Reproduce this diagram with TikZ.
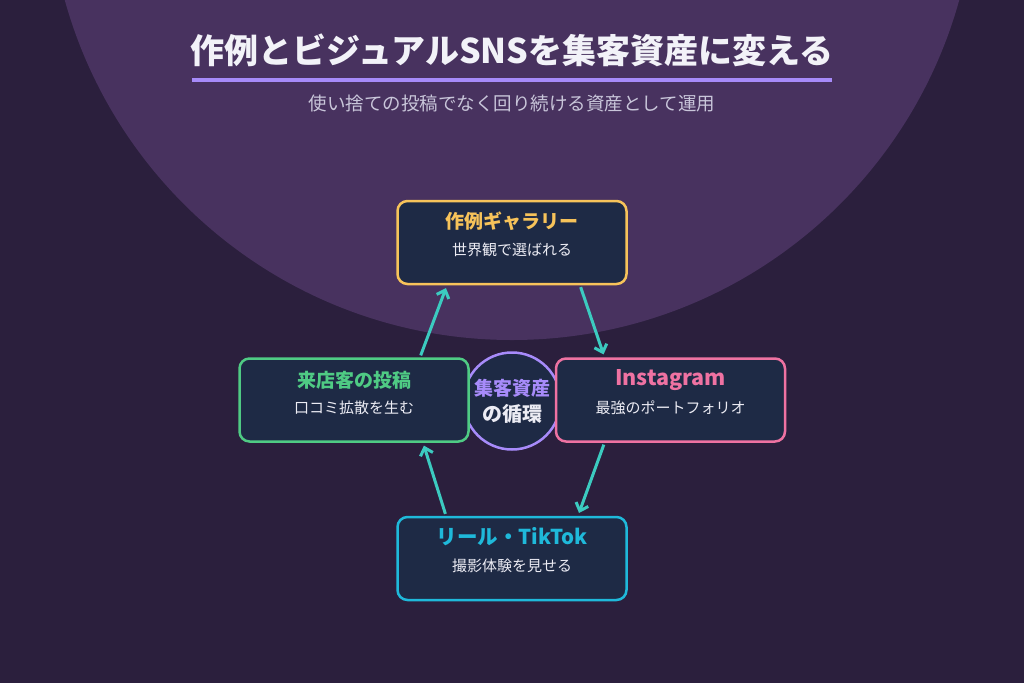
\documentclass[tikz,border=0pt]{standalone}
\usepackage{fontspec}
\setmainfont{Noto Sans CJK JP}
\usetikzlibrary{arrows.meta}

\definecolor{bgdark}{HTML}{2B1F3D}
\definecolor{bgdisc}{HTML}{48325F}
\definecolor{cardfill}{HTML}{1E2A45}
\definecolor{lavender}{HTML}{A78BFA}
\definecolor{titlewhite}{HTML}{F2F2F8}
\definecolor{subgray}{HTML}{C9C6DA}
\definecolor{textwhite}{HTML}{ECECF4}
\definecolor{cgold}{HTML}{F7C35A}
\definecolor{cgreen}{HTML}{4FCB84}
\definecolor{cpink}{HTML}{EF72A2}
\definecolor{ccyan}{HTML}{1FB9DA}
\definecolor{flow}{HTML}{3CCBC0}

\tikzset{
  card/.style={draw=#1, line width=2.5pt, rounded corners=10pt, fill=cardfill,
    minimum width=229pt, minimum height=83pt},
  cardtitle/.style={font=\fontsize{19}{19}\selectfont\bfseries, text=#1},
  cardtext/.style={font=\fontsize{15}{15}\selectfont, text=textwhite},
  flowarrow/.style={-{Straight Barb[length=7pt,width=13pt,line width=3pt]}, line width=3pt, draw=flow},
}

\begin{document}
\begin{tikzpicture}[x=1pt, y=-1pt]
  \useasboundingbox (0,0) rectangle (1024,683);
  \fill[bgdark] (0,0) rectangle (1024,683);
  \fill[bgdisc] (512,-124) circle (464);

  % heading
  \node[font=\fontsize{34}{34}\selectfont\bfseries, text=titlewhite] (title) at (512,50) {作例とビジュアルSNSを集客資産に変える};
  \draw[lavender, line width=4pt] (192,80) -- (832,80);
  \node[font=\fontsize{18.5}{18.5}\selectfont, text=subgray] (subtitle) at (512,103) {使い捨ての投稿でなく回り続ける資産として運用};

  % hub
  \node[circle, draw=lavender, line width=2.5pt, fill=cardfill, minimum size=97pt] (hub) at (512,401) {};
  \node[font=\fontsize{19}{19}\selectfont\bfseries, text=lavender] (hubtop) at (512,388) {集客資産};
  \node[font=\fontsize{20}{20}\selectfont\bfseries, text=textwhite] (hubbot) at (512,414) {の循環};

  % cards
  \node[card=cgold] (gallery) at (512,242.5) {};
  \node[cardtitle=cgold] at (512,221) {作例ギャラリー};
  \node[cardtext] at (512,250) {世界観で選ばれる};

  \node[card=cgreen] (guest) at (354,400) {};
  \node[cardtitle=cgreen] at (354,380) {来店客の投稿};
  \node[cardtext] at (354,408) {口コミ拡散を生む};

  \node[card=cpink] (insta) at (670.5,400) {};
  \node[cardtitle=cpink, font=\fontsize{21.5}{21.5}\selectfont\bfseries] at (670.5,380) {Instagram};
  \node[cardtext] at (670.5,408) {最強のポートフォリオ};

  \node[card=ccyan] (reel) at (512,558.5) {};
  \node[cardtitle=ccyan, font=\fontsize{20.5}{20.5}\selectfont\bfseries] at (512,537) {リール・TikTok};
  \node[cardtext] at (512,566) {撮影体験を見せる};

  % cycle
  \foreach \source/\sx/\dest/\dx/\a/\b in {
    guest/66/gallery/-65/north/south, gallery/68/insta/-66/south/north,
    insta/-66/reel/66/south/north, reel/-66/guest/69/north/south}
    \draw[flowarrow, shorten <=2pt, shorten >=3pt] ([xshift=\sx]\source.\a) -- ([xshift=\dx]\dest.\b);
\end{tikzpicture}
\end{document}
